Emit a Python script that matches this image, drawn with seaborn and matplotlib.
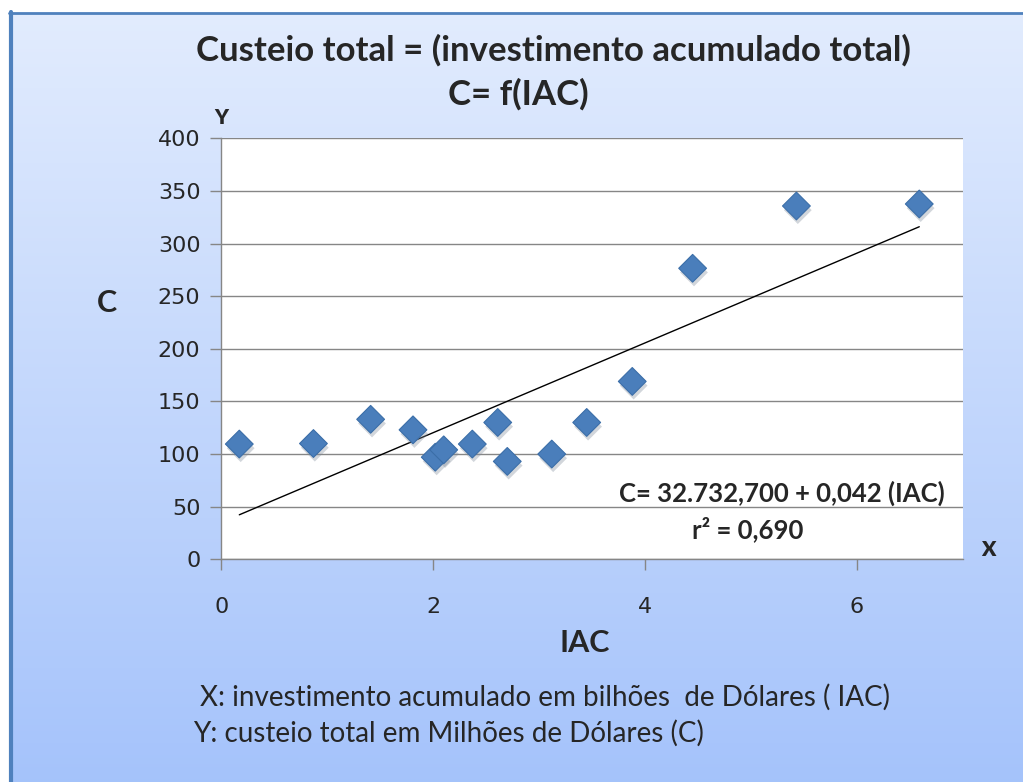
import numpy as np
import pandas as pd
import matplotlib
matplotlib.use("Agg")
import matplotlib.pyplot as plt
import matplotlib.patheffects as pe
import seaborn as sns

# investimento acumulado (bilhoes US$) e custeio total (milhoes US$)
IAC = [0.17, 0.87, 1.41, 1.81, 2.02, 2.10, 2.37, 2.61, 2.70, 3.12,
       3.45, 3.88, 4.45, 5.43, 6.59]
CUSTEIO = [109.5, 110, 133, 123, 97, 104, 109.5, 130, 93, 100,
           130, 169, 276.5, 335.7, 337.6]

X_TICKS = [0, 2, 4, 6]
Y_TICKS = [0, 50, 100, 150, 200, 250, 300, 350, 400]

TITLE_1 = "Custeio total = (investimento acumulado total)"
TITLE_2 = "C= f(IAC)"
EQUATION = "C= 32.732,700 + 0,042 (IAC)"
R2 = "r² = 0,690"
NOTE_X = "X: investimento acumulado em bilhões  de Dólares ( IAC)"
NOTE_Y = "Y: custeio total em Milhões de Dólares (C)"

df = pd.DataFrame({"IAC": IAC, "C": CUSTEIO})

sns.set_style("white")
plt.rcParams["font.family"] = ["DejaVu Sans"]
TXT = ["Lato", "DejaVu Sans"]

W, H = 1023, 782
fig = plt.figure(figsize=(W / 100, H / 100), dpi=100)

# fundo em degradê com moldura
bg = fig.add_axes([0, 0, 1, 1], zorder=-10)
bg.set_xlim(0, W)
bg.set_ylim(H, 0)
bg.axis("off")
grad = np.linspace(0, 1, 256).reshape(-1, 1)
top = np.array([0.886, 0.925, 0.995])
bot = np.array([0.647, 0.765, 0.984])
img = top + (bot - top) * grad[:, :, None]
bg.imshow(img, extent=[11, W, H, 13], aspect="auto")
bg.plot([10.5, 10.5], [12, H], color="#4f81bd", lw=3)
bg.plot([9, W], [12.5, 12.5], color="#4f81bd", lw=2)

ax = fig.add_axes([221.3 / W, 1 - 559.3 / H, (962.7 - 221.3) / W, (559.3 - 138.3) / H])
ax.set_facecolor("white")

sns.regplot(data=df, x="IAC", y="C", ax=ax, scatter=False, ci=None,
            truncate=True, line_kws={"color": "black", "lw": 1, "zorder": 3})
sns.scatterplot(data=df, x="IAC", y="C", ax=ax, marker="D", s=200,
                color="#4a7ebb", edgecolor="#3b6ea8", linewidth=0.8, zorder=4)
ax.collections[-1].set_path_effects([
    pe.SimplePatchShadow(offset=(1, -3), shadow_rgbFace="#7f8a99", alpha=0.35),
    pe.Normal()])

ax.set_xlim(0, 7)
ax.set_ylim(0, 400)
ax.set_xticks(X_TICKS)
ax.set_yticks(Y_TICKS)
ax.tick_params(axis="both", labelsize=16, length=8, width=1, color="#868686",
               direction="out", left=True, bottom=True)
ax.tick_params(axis="x", pad=19)
ax.tick_params(axis="y", pad=7)
ax.yaxis.grid(True, color="#868686", lw=1)
ax.xaxis.grid(False)
for s in ["top", "right"]:
    ax.spines[s].set_visible(False)
for s in ["left", "bottom"]:
    ax.spines[s].set_color("#868686")
    ax.spines[s].set_linewidth(1)
ax.set_xlabel("")
ax.set_ylabel("")

fig.text(553 / W, 1 - 50 / H, TITLE_1, ha="center", va="center", fontsize=25,
         fontweight="bold", family=TXT)
fig.text(518 / W, 1 - 94 / H, TITLE_2, ha="center", va="center", fontsize=25,
         fontweight="bold", family=TXT)
fig.text(221 / W, 1 - 117 / H, "Y", ha="center", va="center", fontsize=15,
         fontweight="heavy", family=TXT)
fig.text(988 / W, 1 - 550 / H, "X", ha="center", va="center", fontsize=15,
         fontweight="heavy", family=TXT)
fig.text(107 / W, 1 - 303 / H, "C", ha="center", va="center", fontsize=22,
         fontweight="bold", family=TXT)
fig.text(585 / W, 1 - 643 / H, "IAC", ha="center", va="center", fontsize=22,
         fontweight="bold", family=TXT)
fig.text(782 / W, 1 - 493 / H, EQUATION, ha="center", va="center", fontsize=18.5,
         fontweight="bold", family=TXT)
fig.text(748 / W, 1 - 529 / H, R2, ha="center", va="center", fontsize=18.5,
         fontweight="bold", family=TXT)
fig.text(200 / W, 1 - 697 / H, NOTE_X, ha="left", va="center", fontsize=20,
         family=TXT)
fig.text(193 / W, 1 - 733 / H, NOTE_Y, ha="left", va="center", fontsize=20,
         family=TXT)

fig.savefig("out.png", dpi=100)
